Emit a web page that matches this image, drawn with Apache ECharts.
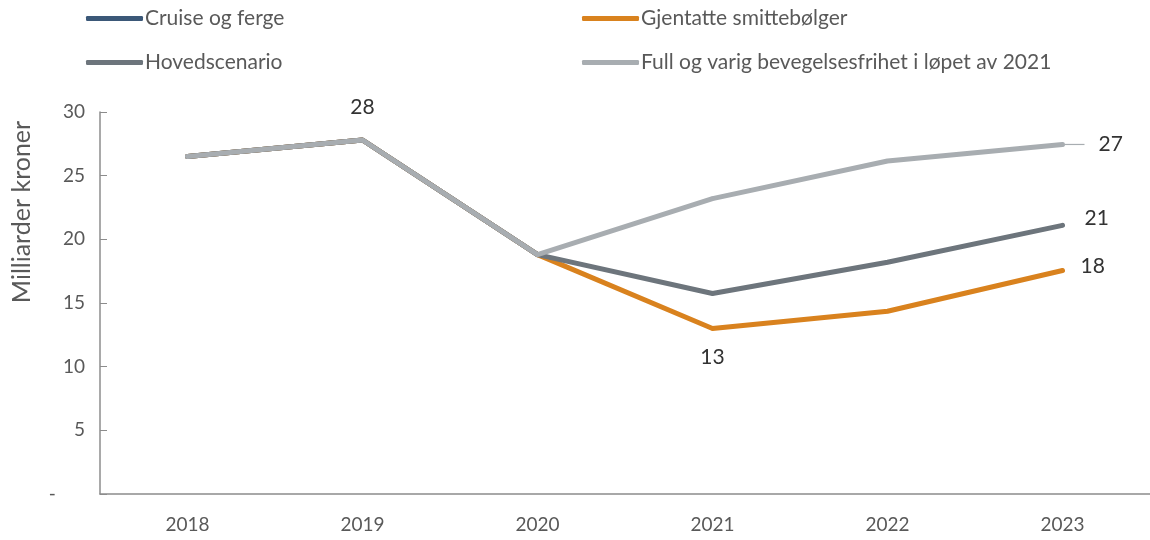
<!DOCTYPE html>
<html>
<head>
<meta charset="utf-8">
<script src="https://cdn.jsdelivr.net/npm/echarts@6/dist/echarts.min.js"></script>
<style>
  html, body { margin: 0; padding: 0; background: #fff; }
  #chart { width: 1150px; height: 540px; }
</style>
</head>
<body>
<div id="chart"></div>
<script>
const years = ['2018', '2019', '2020', '2021', '2022', '2023']
const cruise = [26.5, 27.8, 18.8, null, null, null]
const smitte = [26.5, 27.8, 18.8, 13.0, 14.35, 17.55]
const hoved = [26.5, 27.8, 18.8, 15.75, 18.2, 21.1]
const full = [26.5, 27.8, 18.8, 23.2, 26.15, 27.45]
const yTicks = [0, 5, 10, 15, 20, 25, 30]

const font = 'Lato, "Open Sans", sans-serif'
const colors = {
  cruise: '#3b5878',
  smitte: '#d9821e',
  hoved: '#6d757c',
  full: '#a8adb1',
}

// which points carry a value label, and where
const labelAt = (values, spec) =>
  values.map((v, i) => {
    const s = spec[i]
    if (!s) return v
    return {
      value: v,
      label: {
        show: true,
        position: s.pos,
        distance: s.dist,
        formatter: (p) => (s.gap ? '{gap|}' : '') + Math.round(p.value),
        rich: { gap: { width: s.gap || 0 } },
        fontFamily: font,
        fontSize: 21,
        color: '#333',
      },
      labelLine: s.line,
    }
  })

// shift some labels (series-level labelLayout, by data index)
const shiftLabels = (shifts) => (params) => shifts[params.dataIndex] || {}

const el = document.getElementById('chart')
const chart = echarts.init(el, null, { renderer: 'canvas' })

const lineSeries = (name, data, color, z, extra) => Object.assign({
  name,
  type: 'line',
  data,
  z,
  symbol: 'circle',
  symbolSize: 4,
  showSymbol: true,
  connectNulls: false,
  lineStyle: { color, width: 5, cap: 'round', join: 'round' },
  itemStyle: { color },
  emphasis: { disabled: true },
  animation: false,
}, extra)

const legendItem = (name, left, top) => ({
  data: [name],
  left,
  top,
  padding: 0,
  icon: 'roundRect',
  itemWidth: 57,
  itemHeight: 5,
  itemGap: 0,
  selectedMode: false,
  textStyle: { fontFamily: font, fontSize: 21, color: '#595959', padding: [0, 0, 0, -3] },
})

chart.setOption({
  animation: false,
  legend: [
    legendItem('Cruise og ferge', 86, 8),
    legendItem('Gjentatte smittebølger', 582, 8),
    legendItem('Hovedscenario', 86, 52),
    legendItem('Full og varig bevegelsesfrihet i løpet av 2021', 582, 52),
  ],
  grid: { left: 100, right: 0, top: 112, bottom: 46 },
  graphic: [
    {
      type: 'text',
      x: 22,
      y: 212,
      rotation: Math.PI / 2,
      style: {
        text: 'Milliarder kroner',
        fontFamily: font,
        fontSize: 25,
        fill: '#595959',
        align: 'center',
        verticalAlign: 'middle',
      },
    },
  ],
  xAxis: {
    type: 'category',
    data: years,
    boundaryGap: true,
    axisLine: { lineStyle: { color: '#8c8c8c', width: 1.5 } },
    axisTick: { inside: true, length: 7, lineStyle: { color: '#8c8c8c' } },
    axisLabel: { fontFamily: font, fontSize: 19, color: '#595959', margin: 21 },
    splitLine: { show: false },
  },
  yAxis: {
    type: 'value',
    min: yTicks[0],
    max: yTicks[yTicks.length - 1],
    interval: 5,
    axisLine: { show: true, lineStyle: { color: '#8c8c8c', width: 1.5 } },
    axisTick: { show: true, inside: true, length: 7, lineStyle: { color: '#8c8c8c' } },
    axisLabel: {
      fontFamily: font,
      fontSize: 19,
      color: '#595959',
      margin: 15,
      formatter: (v) => (v === 0 ? '-      ' : String(v)),
    },
    splitLine: { show: false },
  },
  series: [
    lineSeries('Cruise og ferge', cruise, colors.cruise, 1),
    lineSeries(
      'Gjentatte smittebølger',
      labelAt(smitte, {
        3: { pos: 'bottom', dist: 16 },
        5: { pos: 'right', dist: 16 },
      }),
      colors.smitte,
      2,
      { labelLayout: shiftLabels({ 5: { dy: -4 } }) }
    ),
    lineSeries(
      'Hovedscenario',
      labelAt(hoved, {
        5: { pos: 'right', dist: 20 },
      }),
      colors.hoved,
      3,
      { labelLayout: shiftLabels({ 5: { dy: -7 } }) }
    ),
    lineSeries(
      'Full og varig bevegelsesfrihet i løpet av 2021',
      labelAt(full, {
        1: { pos: 'top', dist: 20 },
        5: {
          pos: 'right',
          dist: 6,
          gap: 14,
          line: { show: true, length2: 0, smooth: false, lineStyle: { color: '#a8adb1', width: 1.2 } },
        },
      }),
      colors.full,
      4,
      { labelLayout: shiftLabels({ 5: { dx: 14 } }) }
    ),
  ],
})

window.addEventListener('resize', () => chart.resize())
</script>
</body>
</html>
